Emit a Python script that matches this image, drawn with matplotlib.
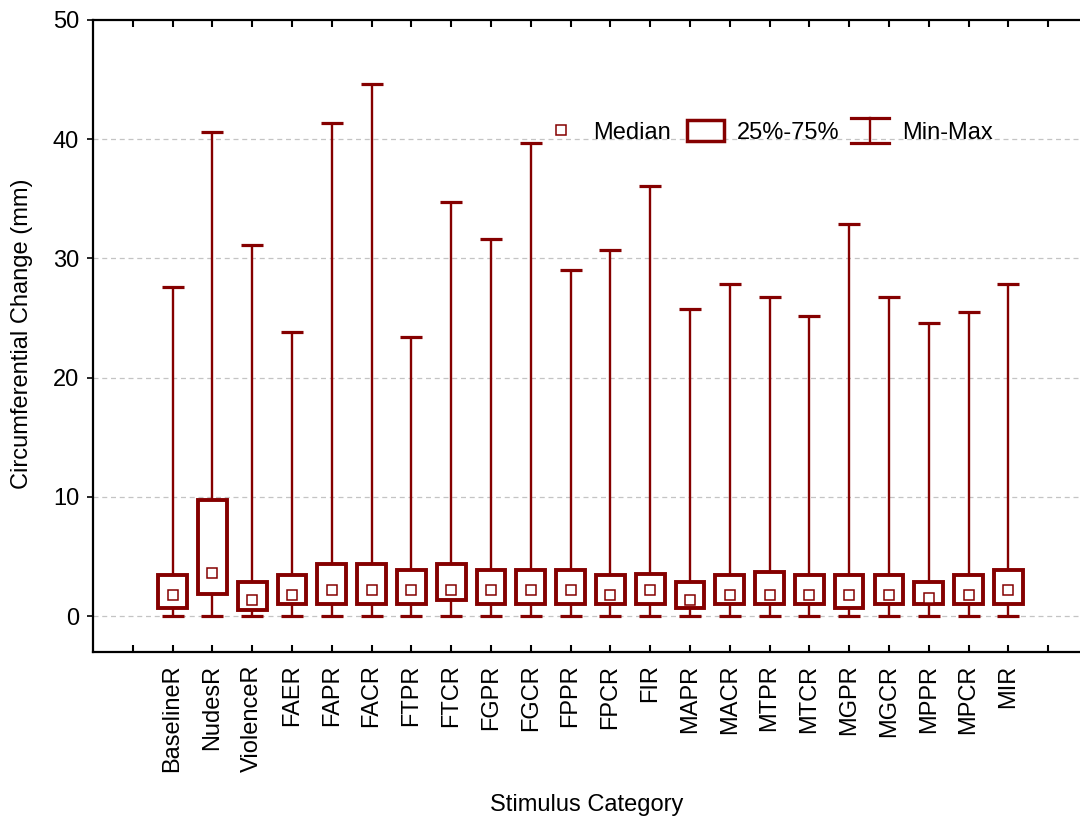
import matplotlib
matplotlib.use("Agg")
import matplotlib.pyplot as plt
from matplotlib.patches import Rectangle
from matplotlib.lines import Line2D

plt.rcParams['font.family'] = ['Liberation Sans', 'DejaVu Sans']

categories = ["BaselineR", "NudesR", "ViolenceR", "FAER", "FAPR", "FACR", "FTPR", "FTCR",
              "FGPR", "FGCR", "FPPR", "FPCR", "FIR", "MAPR", "MACR", "MTPR", "MTCR",
              "MGPR", "MGCR", "MPPR", "MPCR", "MIR"]
mins = [0, 0, 0, 0, 0, 0, 0, 0, 0, 0, 0, 0, 0, 0, 0, 0, 0, 0, 0, 0, 0, 0]
q1 = [0.73, 1.9, 0.53, 1.03, 1.03, 1.03, 1.03, 1.35, 1.03, 1.03, 1.03, 1.03, 1.03, 0.67,
      1.03, 1.03, 1.03, 0.7, 1.03, 1.03, 1.03, 1.03]
medians = [1.76, 3.6, 1.4, 1.76, 2.18, 2.18, 2.18, 2.18, 2.18, 2.18, 2.18, 1.76, 2.18, 1.35,
           1.76, 1.76, 1.76, 1.76, 1.76, 1.57, 1.76, 2.18]
q3 = [3.42, 9.75, 2.86, 3.42, 4.37, 4.37, 3.84, 4.35, 3.87, 3.87, 3.87, 3.45, 3.5, 2.9,
      3.42, 3.7, 3.42, 3.42, 3.42, 2.83, 3.42, 3.84]
maxs = [27.6, 40.6, 31.1, 23.8, 41.4, 44.6, 23.4, 34.7, 31.6, 39.7, 29.0, 30.7, 36.1, 25.8,
        27.9, 26.8, 25.2, 32.9, 26.8, 24.6, 25.5, 27.9]
yticks = [0, 10, 20, 30, 40, 50]

COL = '#850000'
FS = 17

fig = plt.figure(figsize=(10.8, 8.21), dpi=100)
ax = fig.add_axes([93/1080, 1 - 652/821, (1080 - 93)/1080, 632/821])

x = list(range(len(categories)))

ax.vlines(x, mins, maxs, color=COL, lw=1.7, zorder=2)
ax.hlines(maxs, [i - 0.275 for i in x], [i + 0.275 for i in x], color=COL, lw=2.3, zorder=2)
ax.hlines(mins, [i - 0.275 for i in x], [i + 0.275 for i in x], color=COL, lw=2.3, zorder=2)
ax.bar(x, [b - a for a, b in zip(q1, q3)], bottom=q1, width=0.72, facecolor='white',
       edgecolor=COL, linewidth=2.8, zorder=3)
ax.plot(x, medians, linestyle='none', marker='s', markersize=7.2, markerfacecolor='white',
        markeredgecolor=COL, markeredgewidth=1.1, zorder=4)

ax.set_xlim(-2, 22.8)
ax.set_ylim(-3, 50)

ax.set_xticks(list(range(-1, len(categories) + 1)))
ax.set_xticklabels([''] + categories + [''], rotation=90, fontsize=FS)
ax.set_yticks(yticks)
ax.set_yticklabels([str(v) for v in yticks], fontsize=FS)

ax.tick_params(axis='x', direction='in', length=5, width=1.5, top=True, bottom=True, pad=9)
ax.tick_params(axis='y', direction='out', length=4, width=1.2, right=False, pad=6)

for v in yticks[:-1]:
    ax.axhline(v, color='#c4c4c4', lw=0.9, linestyle=(0, (4, 3)), zorder=0)

for s in ['left', 'top', 'bottom']:
    ax.spines[s].set_linewidth(1.6)
ax.spines['right'].set_visible(False)

ax.set_xlabel('Stimulus Category', fontsize=FS)
ax.xaxis.set_label_coords(0.5, -0.242)
ax.xaxis.label.set_va('center')
ax.set_ylabel('Circumferential Change (mm)', fontsize=FS)
ax.yaxis.set_label_coords(-0.072, 0.503)
ax.yaxis.label.set_va('center')

# Legend drawn in axes coordinates
T = ax.transAxes
ax.add_line(Line2D([0.474], [0.826], transform=T, linestyle='none', marker='s', markersize=7,
                   markerfacecolor='white', markeredgecolor=COL, markeredgewidth=1.1,
                   clip_on=False, zorder=5))
ax.text(0.507, 0.8117, 'Median', transform=T, fontsize=FS, va='baseline', ha='left')
ax.add_patch(Rectangle((0.6018, 0.8085), 0.0375, 0.0337, transform=T, facecolor='white',
                       edgecolor=COL, linewidth=2.5, zorder=5))
ax.text(0.652, 0.8117, '25%-75%', transform=T, fontsize=FS, va='baseline', ha='left')
ax.add_line(Line2D([0.7873, 0.7873], [0.8059, 0.8454], transform=T, color=COL, lw=1.7, zorder=5))
ax.add_line(Line2D([0.7677, 0.8068], [0.8454, 0.8454], transform=T, color=COL, lw=2.3, zorder=5))
ax.add_line(Line2D([0.7677, 0.8068], [0.8059, 0.8059], transform=T, color=COL, lw=2.3, zorder=5))
ax.text(0.8193, 0.8117, 'Min-Max', transform=T, fontsize=FS, va='baseline', ha='left')

fig.savefig('out.png', dpi=100)
